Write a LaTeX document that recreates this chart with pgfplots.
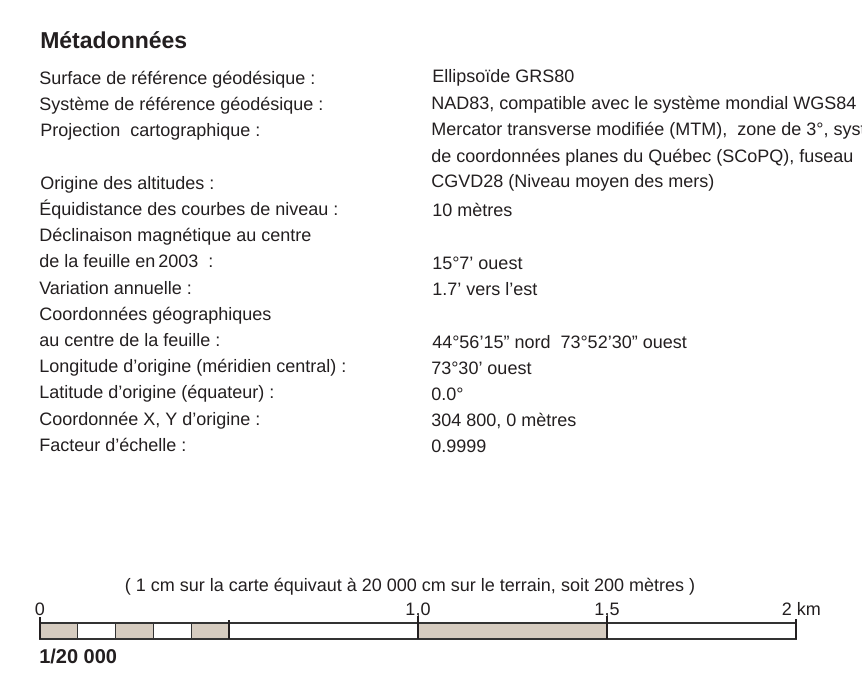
\documentclass[border=0pt]{standalone}
\usepackage{fontspec}
\setmainfont{Liberation Sans}
\usepackage{pgfplots}
\pgfplotsset{compat=1.18}
\definecolor{txt}{HTML}{231F20}
\definecolor{tan}{HTML}{D6CCC0}
\definecolor{barline}{HTML}{333333}
\newcommand{\fs}{\fontsize{13.5pt}{16pt}\selectfont}
\newcommand{\dq}{\symbol{34}}
\begin{document}
\begin{tikzpicture}[x=0.75pt,y=0.75pt]
\useasboundingbox (0,0) rectangle (862,698);
\clip (0,0) rectangle (862,698);
\fill[white] (0,0) rectangle (862,698);
% title
\node[anchor=base west,inner sep=0pt,text=txt,font=\fontsize{17.25pt}{20pt}\selectfont\bfseries] at (40,649.7) {Métadonnées};
% left column
\begin{scope}[every node/.style={anchor=base west,inner sep=0pt,text=txt,font=\fs}]
\node at (39,613.5) {Surface de référence géodésique :};
\node at (39,587.3) {Système de référence géodésique :};
\node at (40,561.1) {Projection\ \ cartographique :};
\node at (40,508.7) {Origine des altitudes :};
\node at (39,482.5) {Équidistance des courbes de niveau :};
\node at (39,456.3) {Déclinaison magnétique au centre};
\node at (39,430.1) {de la feuille en\,2003\ \ :};
\node at (39,403.9) {Variation annuelle :};
\node at (39,377.7) {Coordonnées géographiques};
\node at (39,351.5) {au centre de la feuille :};
\node at (39,325.3) {Longitude d’origine (méridien central) :};
\node at (39,299.1) {Latitude d’origine (équateur) :};
\node at (39,272.9) {Coordonnée X, Y d’origine :};
\node at (39,246.7) {Facteur d’échelle :};
% right column
\node at (432,615) {Ellipsoïde GRS80};
\node at (431,588.3) {NAD83, compatible avec le système mondial WGS84};
\node at (431,562.6) {Mercator transverse modifiée (MTM),\ \ zone de 3°, système};
\node at (431,535.5) {de coordonnées planes du Québec (SCoPQ), fuseau};
\node at (431,510.2) {CGVD28 (Niveau moyen des mers)};
\node at (432,481.5) {10 mètres};
\node at (432,428.5) {15°7’ ouest};
\node at (432,402.5) {1.7’ vers l’est};
\node at (432,349.5) {44°56’15\dq{} nord\ \ 73°52’30\dq{} ouest};
\node at (431,323.5) {73°30’ ouest};
\node at (431,297.5) {0.0°};
\node at (431,271.5) {304 800, 0 mètres};
\node at (431,245.5) {0.9999};
\end{scope}
% scale bar
\node[anchor=base,inner sep=0pt,text=txt,font=\fs] at (410,106.5) {( 1 cm sur la carte équivaut à 20 000 cm sur le terrain, soit 200 mètres )};
\node[anchor=base west,inner sep=0pt,text=txt,font=\fontsize{15pt}{18pt}\selectfont\bfseries] at (39,34.5) {1/20 000};
\begin{axis}[
  at={(30pt,44.25pt)}, anchor=south west,
  scale only axis, width=567pt, height=12pt,
  xmin=0, xmax=2, ymin=0, ymax=1,
  hide axis, clip=false,
]
% tan segments
\addplot[fill=tan, draw=barline, line width=0.9pt] coordinates {(0,1) (0.1,1)} \closedcycle;
\addplot[fill=tan, draw=barline, line width=0.9pt] coordinates {(0.2,1) (0.3,1)} \closedcycle;
\addplot[fill=tan, draw=barline, line width=0.9pt] coordinates {(0.4,1) (0.5,1)} \closedcycle;
\addplot[fill=tan, draw=barline, line width=0.9pt] coordinates {(1.0,1) (1.5,1)} \closedcycle;
% white segments
\addplot[fill=white, draw=barline, line width=0.9pt] coordinates {(0.1,1) (0.2,1)} \closedcycle;
\addplot[fill=white, draw=barline, line width=0.9pt] coordinates {(0.3,1) (0.4,1)} \closedcycle;
\addplot[fill=white, draw=barline, line width=0.9pt] coordinates {(0.5,1) (1.0,1)} \closedcycle;
\addplot[fill=white, draw=barline, line width=0.9pt] coordinates {(1.5,1) (2.0,1)} \closedcycle;
% ticks
\addplot[draw=txt, line width=1.3pt] coordinates {(0,0) (0,1.35)};
\addplot[draw=txt, line width=1.3pt] coordinates {(0.5,0) (0.5,1.2)};
\addplot[draw=txt, line width=1.3pt] coordinates {(1.0,0) (1.0,1.45)};
\addplot[draw=txt, line width=1.3pt] coordinates {(1.5,0) (1.5,1.45)};
\addplot[draw=txt, line width=1.3pt] coordinates {(2.0,0) (2.0,1.25)};
% labels
\node[anchor=base,inner sep=0pt,text=txt,font=\fs] at (axis cs:0,1.45) {0};
\node[anchor=base,inner sep=0pt,text=txt,font=\fs] at (axis cs:1.0,1.45) {1,0};
\node[anchor=base,inner sep=0pt,text=txt,font=\fs] at (axis cs:1.5,1.45) {1,5};
\node[anchor=base west,inner sep=0pt,text=txt,font=\fs] at (axis cs:1.962,1.45) {2 km};
\end{axis}
\end{tikzpicture}
\end{document}
